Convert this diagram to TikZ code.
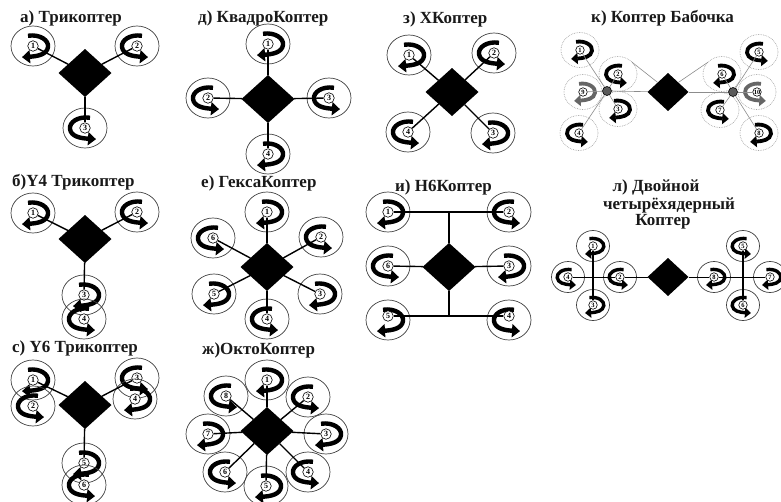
\documentclass[tikz,border=0pt]{standalone}
\usepackage{fontspec}
\setmainfont{Liberation Serif}
\usetikzlibrary{arrows.meta,shapes.geometric}
\def\rs{1}
\newcommand\rotor[6][0]{% [number dy] name x y number dir
  \node[rotorcircle] (#2) at (#3,#4) {};
  \draw[spin,shift={(#3,#4)},xscale=#6,scale=\rs,yscale=0.93]
    (-5,-11) .. controls (7,-13) and (16,-6) .. (15,1) .. controls (14,9) and (5,11) .. (-11,12);
  \node[numdisc] (#2n) at (#3,#4+#1) {#5};
}
\tikzset{
  ttl/.style={anchor=west,inner sep=0pt,font=\fontsize{17}{18}\selectfont\bfseries,text=black!90},
  rotorcircle/.style={ellipse,draw=black!75,line width=0.7pt,minimum width=44pt,minimum height=40pt,inner sep=0pt,outer sep=0pt},
  spin/.style={line width=4.4pt,black,-{Triangle[length=8pt,width=13pt]}},
  numdisc/.style={circle,draw=black,fill=white,line width=0.6pt,minimum size=10.5pt,inner sep=0pt,font=\fontsize{8}{8}\selectfont\bfseries},
  body/.style={diamond,fill=black,shape aspect=1.08,minimum width=53pt,minimum height=48pt,inner sep=0pt,outer sep=0pt},
  smallbody/.style={body,minimum width=41pt,minimum height=38pt},
  arm/.style={line width=1.4pt,black},
  thin arm/.style={line width=0.6pt,black!45},
  hub/.style={circle,draw=black,fill=black!65,line width=0.6pt,minimum size=9pt,inner sep=0pt},
}
\begin{document}
\begin{tikzpicture}[x=1pt,y=-1pt]
\useasboundingbox (0,0) rectangle (781,501);
% a
\node[ttl] (ta) at (20,18) {а) Трикоптер};
\node[body] (aD) at (85,73) {};
\rotor{a1}{33}{46}{1}{1}
\rotor{a2}{137}{46}{2}{-1}
\rotor{a3}{85}{128}{3}{-1}
\foreach \r in {a1n,a2n,a3n} \draw[arm] (aD) -- (\r);
% b
\node[ttl] (tb) at (12,182) {б)Y4 Трикоптер};
\node[body] (bD) at (85,239) {};
\rotor{b1}{33}{213}{1}{1}
\rotor{b2}{137}{212}{2}{-1}
\rotor{b3}{84}{295}{3}{1}
\rotor{b4}{84}{319}{4}{-1}
\foreach \r in {b1n,b2n,b3n} \draw[arm] (bD) -- (\r);
% c
\node[ttl] (tc) at (12,348) {с) Y6 Трикоптер};
\node[body] (cD) at (85,405) {};
\rotor{c1}{33}{380}{1}{1}
\rotor{c2}{33}{406}{2}{-1}
\rotor{c3}{137}{378}{3}{-1}
\rotor{c4}{135}{399}{4}{1}
\rotor{c5}{84}{463}{5}{1}
\rotor{c6}{84}{485}{6}{-1}
\foreach \r in {c1n,c3n,c5n} \draw[arm] (cD) -- (\r);
% d
\node[ttl] (td) at (198,18) {д) КвадроКоптер};
\node[body] (dD) at (268,99) {};
\rotor{d1}{268}{44}{1}{1}
\rotor{d2}{208}{98}{2}{-1}
\rotor{d3}{329}{98}{3}{-1}
\rotor{d4}{268}{154}{4}{1}
\foreach \r in {d1n,d2n,d3n,d4n} \draw[arm] (dD) -- (\r);
% e
\node[ttl] (te) at (201,183) {е) ГексаКоптер};
\node[body] (eD) at (267,267) {};
\rotor{e1}{267}{212}{1}{1}
\rotor{e2}{321}{237}{2}{-1}
\rotor{e3}{320}{294}{3}{1}
\rotor{e4}{267}{319}{4}{-1}
\rotor{e5}{214}{294}{5}{1}
\rotor{e6}{213}{238}{6}{-1}
\foreach \r in {e1n,e2n,e3n,e4n,e5n,e6n} \draw[arm] (eD) -- (\r);
% g
\node[ttl] (tg) at (202,350) {ж)ОктоКоптер};
\node[body] (gD) at (267,431) {};
\rotor{g1}{267}{380}{1}{1}
\rotor{g2}{308}{397}{2}{-1}
\rotor{g3}{326}{434}{3}{1}
\rotor{g4}{308}{472}{4}{-1}
\rotor{g5}{266}{486}{5}{1}
\rotor{g6}{225}{472}{6}{-1}
\rotor{g7}{208}{434}{7}{1}
\rotor{g8}{226}{396}{8}{-1}
\foreach \r in {g1n,g2n,g3n,g4n,g5n,g6n,g7n,g8n} \draw[arm] (gD) -- (\r);
% z
\node[ttl] (tz) at (403,19) {з) XКоптер};
\node[body] (zD) at (452,92) {};
\rotor{z1}{409}{55}{1}{1}
\rotor{z2}{494}{53}{2}{-1}
\rotor{z3}{493}{133}{3}{1}
\rotor{z4}{408}{132}{4}{-1}
\foreach \r in {z1n,z2n,z3n,z4n} \draw[arm] (zD) -- (\r);
% i
\node[ttl] (ti) at (395,187) {и) H6Коптер};
\node[body] (iD) at (449,267) {};
\rotor{i1}{388}{212}{1}{1}
\rotor{i2}{509}{212}{2}{-1}
\rotor{i3}{509}{266}{3}{1}
\rotor[-4]{i4}{509}{320}{4}{-1}
\rotor[-4]{i5}{388}{320}{5}{1}
\rotor{i6}{388}{266}{6}{-1}
\coordinate (iT) at (449,212);
\coordinate (iB) at (449,316);
\draw[arm] (iD) -- (iT);
\draw[arm] (iD) -- (iB);
\draw[arm] (i1n) -- (i2n);
\draw[arm] (i5n) -- (i4n);
\draw[arm] (iD) -- (i3n);
\draw[arm] (iD) -- (i6n);
% k
\node[ttl] (tk) at (591,18) {к) Коптер Бабочка};
\node[smallbody] (kD) at (668,92) {};
\begin{scope}[rotorcircle/.append style={minimum width=38pt,minimum height=35pt,draw=black!35,densely dotted},
  spin/.append style={line width=3.8pt,-{Triangle[length=6.5pt,width=11pt]}},
  numdisc/.append style={minimum size=8.5pt,font=\fontsize{6.5}{6.5}\selectfont\bfseries}]
\def\rs{0.8}
\rotor{k1}{580}{50}{1}{1}
\rotor{k2}{618}{74}{2}{-1}
\rotor{k3}{618}{109}{3}{1}
\rotor{k4}{579}{133}{4}{-1}
\rotor{k5}{759}{52}{5}{-1}
\rotor{k6}{722}{74}{6}{1}
\rotor{k7}{720}{110}{7}{-1}
\rotor{k8}{759}{133}{8}{1}
\begin{scope}[spin/.append style={black!60}]
\rotor{k9}{583}{92}{9}{1}
\rotor{k10}{757}{92}{10}{-1}
\end{scope}
\end{scope}
\node[hub] (kL) at (607,91) {};
\node[hub] (kR) at (733,92) {};
\foreach \r in {k1n,k2n,k3n,k4n,k9n,kD} \draw[thin arm] (kL) -- (\r);
\foreach \r in {k5n,k6n,k7n,k8n,k10n,kD} \draw[thin arm] (kR) -- (\r);
\draw[thin arm] (kD.north west) -- (k2.40);
\draw[thin arm] (kD.north east) -- (k6.140);
% l
\node[ttl,anchor=center] (tl1) at (656,187) {л) Двойной};
\node[ttl,anchor=center] (tl2) at (669,205) {четырёхядерный};
\node[ttl,anchor=center] (tl3) at (663,222) {Коптер};
\node[smallbody] (lD) at (668,277) {};
\begin{scope}[rotorcircle/.append style={minimum width=33pt,minimum height=31pt},
  spin/.append style={line width=3.4pt,-{Triangle[length=6pt,width=10pt]}},
  numdisc/.append style={minimum size=8.5pt,font=\fontsize{6.5}{6.5}\selectfont\bfseries}]
\def\rs{0.72}
\rotor{l1}{593}{246}{1}{1}
\rotor{l2}{620}{277}{2}{-1}
\rotor{l3}{593}{305}{3}{1}
\rotor{l4}{568}{277}{4}{-1}
\rotor{l5}{743}{246}{5}{-1}
\rotor{l6}{770}{277}{7}{1}
\rotor{l7}{743}{305}{6}{-1}
\rotor{l8}{714}{277}{8}{1}
\end{scope}
\draw[line width=0.8pt] (l4n) -- (l2n);
\draw[line width=0.8pt] (l2n) -- (lD);
\draw[line width=0.8pt] (lD) -- (l8n);
\draw[line width=0.8pt] (l8n) -- (l6n);
\draw[line width=1.6pt] (l1n) -- (l3n);
\draw[line width=1.6pt] (l5n) -- (l7n);
\end{tikzpicture}
\end{document}
